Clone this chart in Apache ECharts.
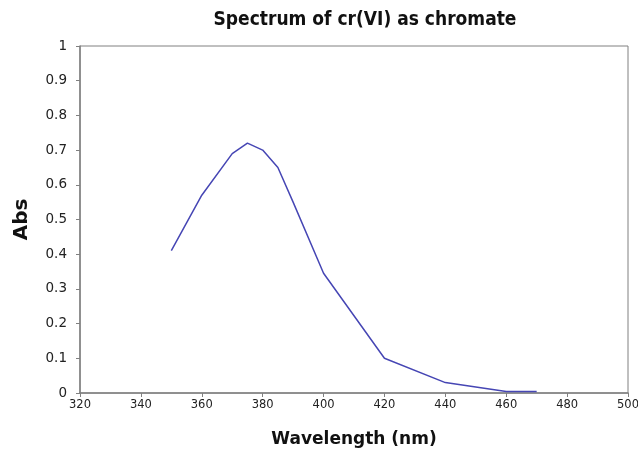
<!DOCTYPE html>
<html>
<head>
<meta charset="utf-8">
<script src="https://cdn.jsdelivr.net/npm/echarts@6/dist/echarts.min.js"></script>
<style>
html, body { margin: 0; padding: 0; background: #fff; }
#main { width: 638px; height: 451px; }
</style>
</head>
<body>
<div id="main"></div>
<script>
// 波长 (nm) 与吸光度
var wavelength = [350, 360, 370, 375, 380, 385, 390, 400, 420, 440, 460, 470];
var absValues = [0.41, 0.57, 0.69, 0.72, 0.70, 0.65, 0.55, 0.345, 0.10, 0.03, 0.004, 0.004];
var xTicks = [320, 340, 360, 380, 400, 420, 440, 460, 480, 500];

var points = [];
for (var i = 0; i < wavelength.length; i++) {
	points.push([wavelength[i], absValues[i]]);
}

var option = {
	animation : false,
	title : {
		text : 'Spectrum of cr(VI) as chromate',
		left : 360,
		textAlign : 'center',
		top : 6,
		textStyle : {
			fontFamily : 'DejaVu Sans Condensed',
			fontWeight : 'bold',
			fontSize : 19,
			color : '#111'
		}
	},
	grid : {
		left : 80,
		right : 10,
		top : 46,
		bottom : 58,
		outerBoundsMode : 'none',// 不让标签挤压绘图区
		show : true,
		borderColor : '#808080',
		borderWidth : 1
	},
	xAxis : {
		type : 'value',
		min : xTicks[0],
		max : xTicks[xTicks.length - 1],
		interval : 20,
		name : 'Wavelength (nm)',
		nameLocation : 'middle',
		nameGap : 38,
		nameTextStyle : {
			fontFamily : 'DejaVu Sans',
			fontWeight : 'bold',
			fontSize : 17,
			color : '#111'
		},
		splitLine : { show : false },
		axisLine : { lineStyle : { color : '#808080', width : 1.5 } },
		axisTick : { length : 4, lineStyle : { color : '#808080' } },
		axisLabel : {
			fontFamily : 'DejaVu Sans',
			fontSize : 11.5,
			color : '#222',
			margin : 6
		}
	},
	yAxis : {
		type : 'value',
		min : 0,
		max : 1,
		interval : 0.1,
		name : 'Abs',
		nameLocation : 'middle',
		nameGap : 48,
		nameRotate : 90,
		nameTextStyle : {
			fontFamily : 'DejaVu Sans',
			fontWeight : 'bold',
			fontSize : 20,
			color : '#111'
		},
		splitLine : { show : false },
		axisLine : { show : true, lineStyle : { color : '#808080', width : 1.5 } },
		axisTick : { show : true, length : 4, lineStyle : { color : '#808080' } },
		axisLabel : {
			fontFamily : 'DejaVu Sans',
			fontSize : 13.5,
			color : '#222',
			margin : 13
		}
	},
	series : [ {
		type : 'line',
		data : points,
		symbol : 'none',
		lineStyle : { color : '#4646b4', width : 1.5 }
	} ]
};

var myChart = echarts.init(document.getElementById('main'));
myChart.setOption(option);
</script>
</body>
</html>
